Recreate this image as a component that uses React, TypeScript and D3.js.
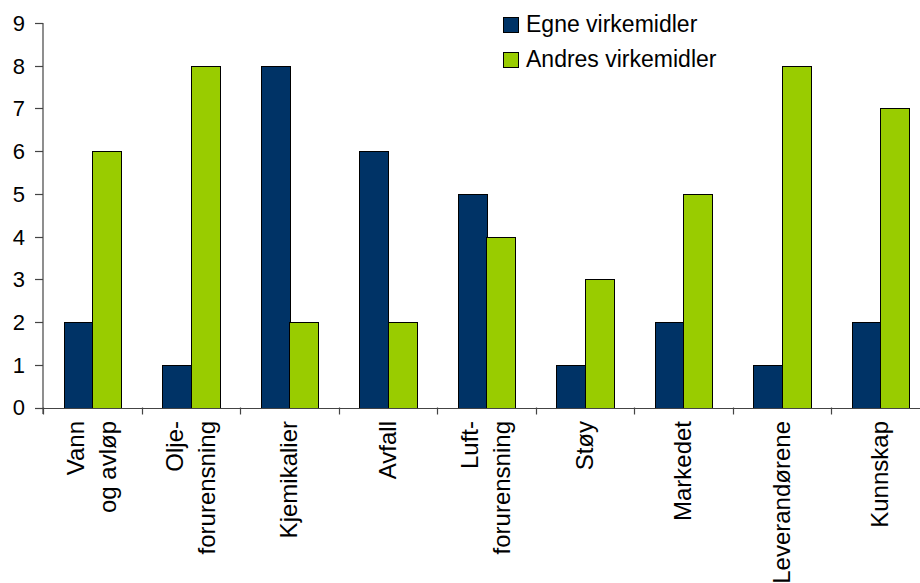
import * as d3 from "d3";

const categories = [
  ["Vann", "og avløp"],
  ["Olje-", "forurensning"],
  ["Kjemikalier"],
  ["Avfall"],
  ["Luft-", "forurensning"],
  ["Støy"],
  ["Markedet"],
  ["Leverandørene"],
  ["Kunnskap"],
];
const seriesNames = ["Egne virkemidler", "Andres virkemidler"];
const egne = [2, 1, 8, 6, 5, 1, 2, 1, 2];
const andres = [6, 8, 2, 2, 4, 3, 5, 8, 7];
const yTicks = [0, 1, 2, 3, 4, 5, 6, 7, 8, 9];
const colors = ["#003366", "#99CC00"];

const width = 920;
const height = 583;
const left = 43;
const bandW = 98.5;
const font = "'Liberation Sans', Arial, sans-serif";

const App = () => {
  const idx = d3.range(categories.length);
  const x = d3
    .scaleBand<number>()
    .domain(idx)
    .range([left, left + bandW * categories.length])
    .padding(0);
  const xs = d3
    .scaleBand<number>()
    .domain([0, 1])
    .range([20.5, bandW - 20.5])
    .padding(0);
  const y = d3.scaleLinear().domain([0, 9]).range([407.5, 23]);
  const values = [egne, andres];

  return (
    <svg
      width={width}
      height={height}
      style={{ position: "absolute", left: 0, top: 0, background: "#fff" }}
      fontFamily={font}
    >
      {/* bars */}
      {values.map((vals, s) => (
        <g key={s} fill={colors[s]} stroke="#000" strokeWidth={1}>
          {vals.map((v, i) => (
            <rect
              key={i}
              x={Math.round(x(i)! + xs(s)!) + 0.5}
              y={Math.round(y(v)) + 0.5}
              width={Math.round(xs.bandwidth())}
              height={Math.round(y(0)) - Math.round(y(v))}
            />
          ))}
        </g>
      ))}

      {/* y axis */}
      <g stroke="#444" strokeWidth={1.2}>
        <line x1={left} x2={left} y1={y(9)} y2={414} />
        {yTicks.map((t) => (
          <line key={t} x1={left - 8} x2={left} y1={Math.round(y(t)) + 0.5} y2={Math.round(y(t)) + 0.5} />
        ))}
      </g>
      {yTicks.map((t) => (
        <text
          key={t}
          x={25}
          y={y(t)}
          dy="0.36em"
          textAnchor="end"
          fontSize={22}
          fill="#000"
        >
          {t}
        </text>
      ))}

      {/* x axis */}
      <g stroke="#444" strokeWidth={1.2}>
        <line x1={left} x2={width} y1={Math.round(y(0)) + 0.5} y2={Math.round(y(0)) + 0.5} />
        {idx.map((i) => (
          <line key={i} x1={Math.round(x(i)!) + 0.5} x2={Math.round(x(i)!) + 0.5} y1={y(0)} y2={414.5} />
        ))}
      </g>
      {categories.map((lines, i) => {
        const c = x(i)! + bandW / 2 + 8;
        return (
          <g key={i}>
            {lines.map((ln, j) => {
              const bx = c + (j - (lines.length - 1) / 2) * 32;
              return (
                <text
                  key={j}
                  transform={`translate(${bx},421) rotate(-90)`}
                  textAnchor="end"
                  fontSize={24}
                  fill="#000"
                >
                  {ln}
                </text>
              );
            })}
          </g>
        );
      })}

      {/* legend */}
      {seriesNames.map((name, s) => (
        <g key={name} transform={`translate(503,${17 + s * 35})`}>
          <rect x={0.5} y={0.5} width={15} height={15} fill={colors[s]} stroke="#000" />
          <text x={23} y={15} fontSize={23} fill="#000">
            {name}
          </text>
        </g>
      ))}
    </svg>
  );
};

export default App;
